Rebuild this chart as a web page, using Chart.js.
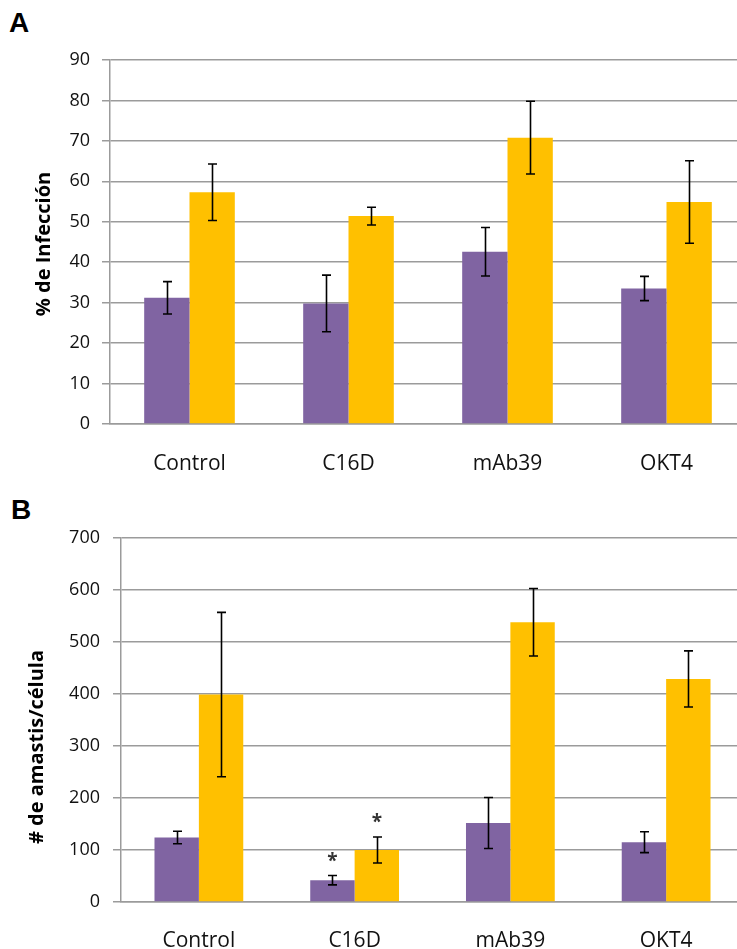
<!DOCTYPE html>
<html>
<head>
<meta charset="utf-8">
<script src="https://cdn.jsdelivr.net/npm/chart.js@4.4.1/dist/chart.umd.min.js"></script>
<style>
  html, body { margin: 0; padding: 0; background: #fff; overflow: hidden; width: 737px; height: 949px; }
  .panel { position: absolute; left: 0; }
  .lbl { position: absolute; font-family: "Liberation Sans", Arial, sans-serif; font-weight: bold; font-size: 28px; color: #000; }
</style>
</head>
<body>
<div class="lbl" style="left:9px; top:7px;">A</div>
<div class="lbl" style="left:11px; top:494px;">B</div>
<div class="panel" style="top:0;"><canvas id="chartA" width="750" height="480"></canvas></div>
<div class="panel" style="top:480px;"><canvas id="chartB" width="750" height="480"></canvas></div>
<script>
// ---- Data ----
const categories = ["Control", "C16D", "mAb39", "OKT4"];

// Panel A: % de Infección
const infPurple = [31.2, 29.8, 42.6, 33.5];
const infPurpleErr = [4.0, 7.0, 6.0, 3.0];
const infOrange = [57.3, 51.4, 70.8, 54.9];
const infOrangeErr = [7.0, 2.2, 9.0, 10.2];
const ticksA = [0, 10, 20, 30, 40, 50, 60, 70, 80, 90];
const titleA = "% de Infección";

// Panel B: # de amastis/célula
const amaPurple = [124, 42, 152, 115];
const amaPurpleErr = [12, 9, 49, 20];
const amaOrange = [399, 100, 538, 429];
const amaOrangeErr = [158, 25, 65, 54];
const sigPurpleB = [false, true, false, false];
const sigOrangeB = [false, true, false, false];
const ticksB = [0, 100, 200, 300, 400, 500, 600, 700];
const titleB = "# de amastis/célula";

// ---- Styles ----
const PURPLE = "#8064A2";
const ORANGE = "#FFC000";
const GRID = "#9b9b9b";
const TXT = "#111111";
const FONT = "'Open Sans', 'Liberation Sans', sans-serif";

const errorBars = {
  id: "errorBars",
  afterDatasetsDraw(chart, args, opts) {
    const ctx = chart.ctx;
    const ys = chart.scales.y;
    ctx.save();
    ctx.strokeStyle = "#000";
    ctx.lineWidth = 1.6;
    chart.data.datasets.forEach((ds, i) => {
      const meta = chart.getDatasetMeta(i);
      meta.data.forEach((el, j) => {
        const v = ds.data[j], e = ds.errors[j];
        const top = ys.getPixelForValue(v + e);
        const bot = ys.getPixelForValue(v - e);
        const x = Math.round(el.x) + 0.5;
        ctx.beginPath();
        ctx.moveTo(x, top); ctx.lineTo(x, bot);
        ctx.moveTo(x - 4.5, top); ctx.lineTo(x + 4.5, top);
        ctx.moveTo(x - 4.5, bot); ctx.lineTo(x + 4.5, bot);
        ctx.stroke();
        if (ds.sig && ds.sig[j]) {
          ctx.fillStyle = "#333";
          ctx.font = "bold 19px " + FONT;
          ctx.textAlign = "center";
          ctx.textBaseline = "middle";
          ctx.fillText("*", el.x, top - 14);
        }
      });
    });
    ctx.restore();
  }
};

const axisTitle = {
  id: "axisTitle",
  afterDraw(chart, args, opts) {
    const ctx = chart.ctx;
    ctx.save();
    ctx.translate(opts.x, opts.y);
    ctx.rotate(-Math.PI / 2);
    ctx.fillStyle = "#000";
    ctx.font = "bold 20px " + FONT;
    ctx.textAlign = "center";
    ctx.textBaseline = "middle";
    ctx.fillText(opts.text, 0, 0);
    ctx.restore();
  }
};

function makeChart(id, p, pe, o, oe, sigP, sigO, ticks, title, cfg) {
  return new Chart(document.getElementById(id), {
    type: "bar",
    data: {
      labels: categories,
      datasets: [
        { data: p, errors: pe, sig: sigP, backgroundColor: PURPLE, borderWidth: 0 },
        { data: o, errors: oe, sig: sigO, backgroundColor: ORANGE, borderWidth: 0 }
      ]
    },
    options: {
      responsive: false,
      animation: false,
      events: [],
      layout: { padding: { left: 0, right: cfg.padRight, top: cfg.top, bottom: 0 } },
      plugins: {
        legend: { display: false },
        tooltip: { enabled: false },
        axisTitle: { text: title, x: cfg.titleX, y: cfg.titleY }
      },
      datasets: { bar: { categoryPercentage: 0.57, barPercentage: 1.0 } },
      scales: {
        x: {
          grid: { display: false },
          border: { display: true, color: GRID, width: 1.5 },
          ticks: { color: TXT, font: { family: FONT, size: 21 }, padding: cfg.xPad },
          afterFit(s) { s.height = cfg.xHeight; }
        },
        y: {
          min: ticks[0],
          max: ticks[ticks.length - 1],
          afterBuildTicks(s) { s.ticks = ticks.map(v => ({ value: v })); },
          grid: { color: GRID, lineWidth: 1.5, tickLength: 8, drawTicks: true },
          border: { display: true, color: GRID, width: 1.5 },
          ticks: { color: TXT, font: { family: FONT, size: 18 }, padding: cfg.yPad },
          afterFit(s) { s.width = cfg.yWidth; }
        }
      }
    },
    plugins: [errorBars, axisTitle]
  });
}

makeChart("chartA", infPurple, infPurpleErr, infOrange, infOrangeErr, null, null, ticksA, titleA,
  { top: 60, padRight: 4, yWidth: 110, xHeight: 56, xPad: 19, yPad: 12, titleX: 44, titleY: 244 });
makeChart("chartB", amaPurple, amaPurpleErr, amaOrange, amaOrangeErr, sigPurpleB, sigOrangeB, ticksB, titleB,
  { top: 58, padRight: 6, yWidth: 121, xHeight: 58, xPad: 18, yPad: 13, titleX: 37, titleY: 267 });
</script>
</body>
</html>
